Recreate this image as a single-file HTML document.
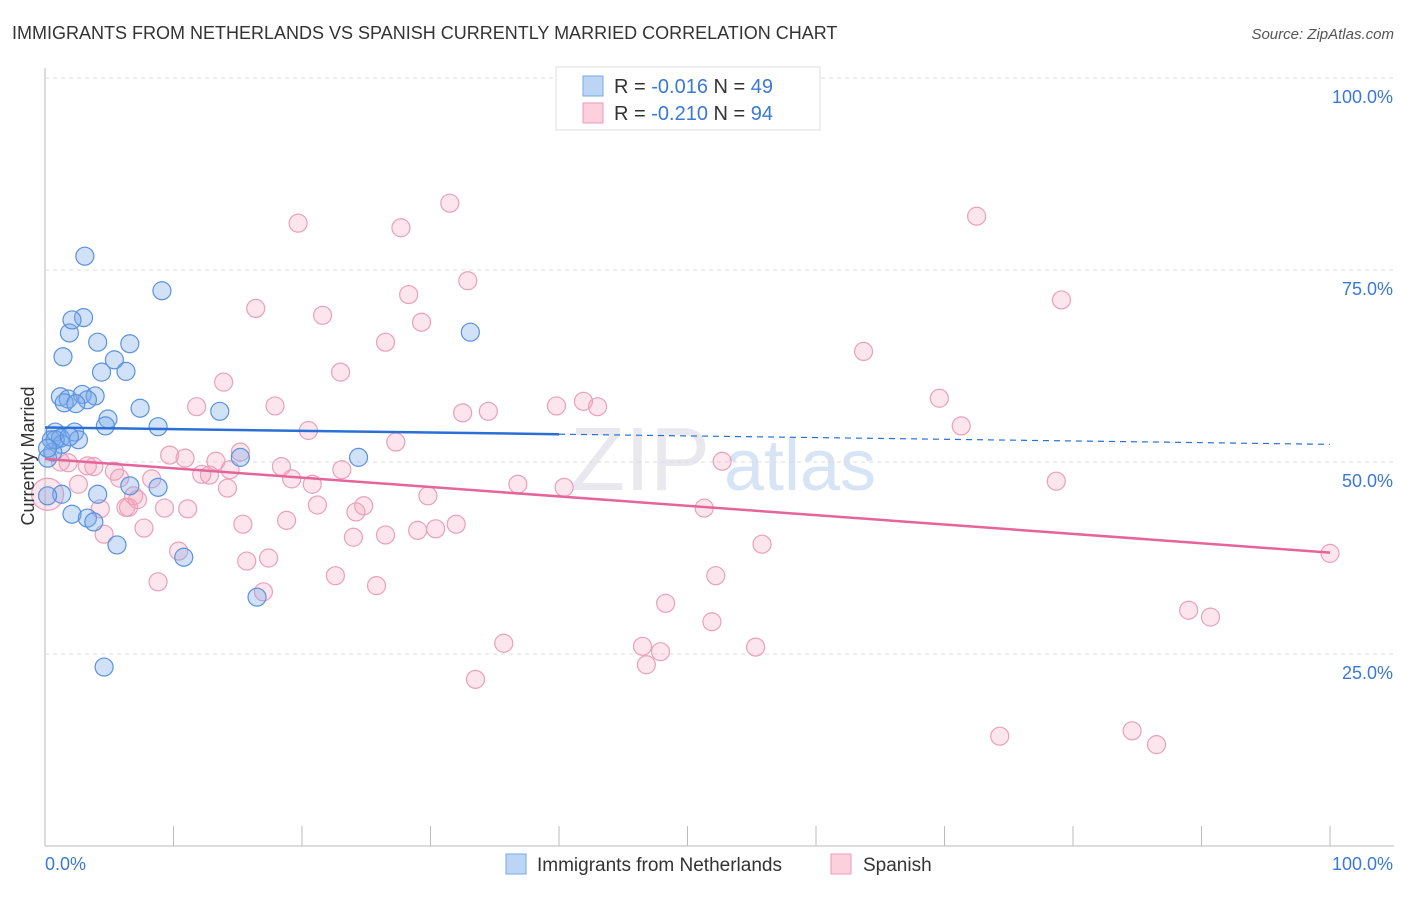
<!DOCTYPE html>
<html><head><meta charset="utf-8"><style>
body{margin:0;background:#fff;font-family:"Liberation Sans",sans-serif}
svg text{font-family:"Liberation Sans",sans-serif}
</style></head><body>
<svg id="c" width="1406" height="892">
<text x="12" y="39" font-size="18" fill="#333">IMMIGRANTS FROM NETHERLANDS VS SPANISH CURRENTLY MARRIED CORRELATION CHART</text>
<text x="1394" y="39" font-size="15" fill="#555" font-style="italic" text-anchor="end">Source: ZipAtlas.com</text>
<text x="640" y="490" font-size="90" fill="#e8e8ee" font-family="Liberation Serif" text-anchor="middle">ZIP</text>
<text x="800" y="490" font-size="72" fill="#d6e4f5" text-anchor="middle">atlas</text>
<g id="grid"></g><g id="pts"></g><g id="lines"></g>
<text transform="translate(34,456) rotate(-90)" font-size="18" fill="#333" text-anchor="middle">Currently Married</text>
<g>
<rect x="556" y="67" width="264" height="63" fill="#fff" stroke="#ddd"/>
<rect x="583" y="76" width="20" height="20" fill="#bcd5f5" stroke="#7aaae6"/>
<text x="614" y="93" font-size="20" fill="#333">R = <tspan fill="#3b78d8">-0.016</tspan>   N = <tspan fill="#3b78d8">49</tspan></text>
<rect x="583" y="103" width="20" height="20" fill="#fcd0dc" stroke="#ec9ab4"/>
<text x="614" y="120" font-size="20" fill="#333">R = <tspan fill="#3b78d8">-0.210</tspan>   N = <tspan fill="#3b78d8">94</tspan></text>
</g>
<g>
<rect x="506" y="854" width="20" height="20" fill="#bcd5f5" stroke="#7aaae6"/>
<text x="537" y="871" font-size="19" fill="#333">Immigrants from Netherlands</text>
<rect x="831" y="854" width="20" height="20" fill="#fcd0dc" stroke="#ec9ab4"/>
<text x="863" y="871" font-size="19" fill="#333">Spanish</text>
</g>
</svg>
<script>
const yTicks=[25,50,75,100];
const xTickLabels=["0.0%","100.0%"];
const blueX=[3.1,9.1,33.1,1.9,3.0,2.1,4.1,6.6,1.4,5.4,4.4,6.3,1.2,1.8,1.5,2.9,3.9,3.3,2.4,7.4,13.6,4.9,4.7,8.8,0.8,0.5,1.2,2.3,2.6,1.3,0.2,0.6,15.2,24.4,6.6,8.8,1.3,4.1,2.1,3.3,3.8,5.6,10.8,16.5,4.6,0.2,0.8,0.2,1.9];
const blueY=[76.8,72.3,66.9,66.8,68.8,68.5,65.6,65.4,63.7,63.3,61.7,61.8,58.5,58.2,57.7,58.8,58.6,58.1,57.6,57.0,56.6,55.6,54.7,54.6,53.9,52.9,53.1,53.9,52.9,52.3,50.5,51.3,50.6,50.6,46.9,46.7,45.8,45.8,43.2,42.7,42.2,39.2,37.6,32.4,23.3,45.6,52.9,51.8,53.3];
const pinkX=[31.5,19.7,27.7,72.5,32.9,28.3,79.1,16.4,21.6,29.3,26.5,63.7,23.0,13.9,69.6,39.8,41.9,43.0,34.5,32.5,11.8,17.9,71.3,20.5,27.3,9.7,10.9,13.3,15.2,52.7,18.4,23.1,14.4,3.8,3.3,1.8,1.2,5.4,5.8,8.3,12.2,12.8,19.2,20.8,36.8,40.4,2.6,14.2,78.7,6.9,7.2,6.3,4.3,6.5,9.3,11.1,29.8,21.2,24.8,24.2,51.3,15.4,18.8,32.0,30.4,29.0,4.6,7.7,24.0,26.5,55.8,10.4,17.4,15.7,22.6,8.8,25.8,17.0,52.2,48.3,35.7,46.5,47.9,51.9,55.3,46.8,33.5,89.0,90.7,74.3,84.6,86.5,100.0,0.2];
const pinkY=[83.7,81.1,80.5,82.0,73.6,71.8,71.1,70.0,69.1,68.2,65.6,64.4,61.7,60.4,58.3,57.3,57.9,57.2,56.6,56.4,57.2,57.3,54.7,54.1,52.6,50.9,50.5,50.1,51.3,50.1,49.4,49.0,49.0,49.4,49.5,49.9,50.0,48.8,47.9,47.8,48.4,48.3,47.8,47.1,47.1,46.7,47.1,46.6,47.5,45.6,45.1,44.1,43.9,44.1,44.0,43.9,45.6,44.4,44.3,43.5,44.0,41.9,42.4,41.9,41.3,41.1,40.6,41.4,40.2,40.5,39.3,38.4,37.5,37.1,35.2,34.4,33.9,33.1,35.2,31.6,26.4,26.0,25.3,29.2,25.9,23.6,21.7,30.7,29.8,14.3,15.0,13.2,38.1,45.8];
const blueTrend=[54.5,52.3], pinkTrend=[50.4,38.2];
const X=v=>45+v*12.85, Y=v=>846-v*7.68;
const NS="http://www.w3.org/2000/svg";
function mk(t,a,p){const e=document.createElementNS(NS,t);for(const k in a)e.setAttribute(k,a[k]);p.appendChild(e);return e;}
const g=document.getElementById('grid');
const ax=mk('line',{x1:45,y1:68,x2:45,y2:846,stroke:'#bbb'},g);


const bx=mk('line',{x1:45,y1:846,x2:1394,y2:846,stroke:'#bbb'},g);


for(let i=1;i<=10;i++){const t=mk('line',{x1:45+i*128.5,y1:826,x2:45+i*128.5,y2:846,stroke:'#bbb'},g);

}
yTicks.forEach(v=>{const l=mk('line',{x1:45,y1:Y(v),x2:1394,y2:Y(v),stroke:'#ddd','stroke-dasharray':'4,4'},g);


const t=mk('text',{x:1393,y:Y(v)+25,'font-size':18,fill:'#3b78d8','text-anchor':'end'},g);t.textContent=v.toFixed(1)+'%';

});
xTickLabels.forEach((s,i)=>{const t=mk('text',{x:i?1393:45,y:870,'font-size':18,fill:'#3b78d8','text-anchor':i?'end':'start'},g);t.textContent=s;

});
const p=document.getElementById('pts');
pinkX.forEach((x,i)=>{const c=mk('circle',{cx:X(x),cy:Y(pinkY[i]),r:i==pinkX.length-1?16:9,fill:'rgba(244,160,188,0.28)',stroke:'#eaa0ba','stroke-width':1.2},p);

});
blueX.forEach((x,i)=>{const c=mk('circle',{cx:X(x),cy:Y(blueY[i]),r:9,fill:'rgba(120,170,235,0.35)',stroke:'#5a92de','stroke-width':1.2},p);

});
const L=document.getElementById('lines');
const bm=v=>blueTrend[0]+(blueTrend[1]-blueTrend[0])*v/100;
const l1=mk('line',{x1:X(0),y1:Y(bm(0)),x2:X(40),y2:Y(bm(40)),stroke:'#2a6fd6','stroke-width':2.5},L);


const l2=mk('line',{x1:X(40),y1:Y(bm(40)),x2:X(100),y2:Y(bm(100)),stroke:'#2a6fd6','stroke-width':1.2,'stroke-dasharray':'6,5'},L);


const l3=mk('line',{x1:X(0),y1:Y(pinkTrend[0]),x2:X(100),y2:Y(pinkTrend[1]),stroke:'#e5649a','stroke-width':2.5},L);


</script>
</body></html>
